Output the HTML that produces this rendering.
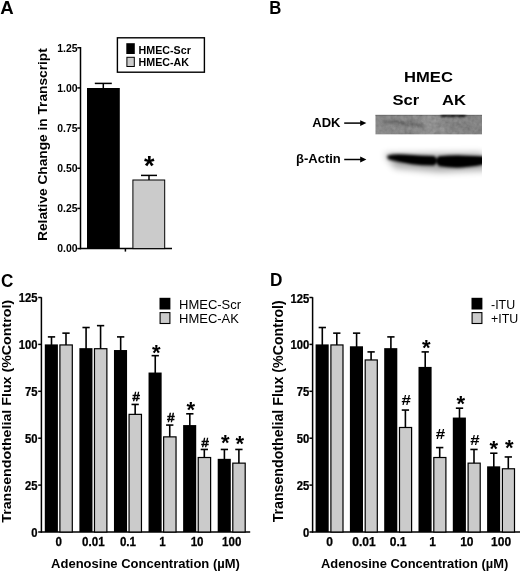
<!DOCTYPE html>
<html lang="en"><head><meta charset="utf-8"><title>Figure</title>
<style>
html,body{margin:0;padding:0;background:#fff;}
body{width:520px;height:571px;overflow:hidden;}
svg{display:block;}
svg text{font-family:"Liberation Sans",Arial,Helvetica,sans-serif;fill:#000;}
</style></head><body>
<svg width="520" height="571" viewBox="0 0 520 571">
<rect width="520" height="571" fill="#fff"/>
<text transform="translate(0.20,13.90) scale(0.98,1)" font-size="19" font-weight="bold" text-anchor="start">A</text>
<text transform="translate(269.30,13.80) scale(0.93,1)" font-size="18" font-weight="bold" text-anchor="start">B</text>
<text transform="translate(1.00,286.80) scale(0.9,1)" font-size="19" font-weight="bold" text-anchor="start">C</text>
<text transform="translate(270.00,286.00) scale(0.93,1)" font-size="18.5" font-weight="bold" text-anchor="start">D</text>
<line x1="80.5" y1="47.0" x2="80.5" y2="249.25" stroke="#000" stroke-width="1.5"/>
<line x1="79.85" y1="248.6" x2="172" y2="248.6" stroke="#000" stroke-width="1.5"/>
<line x1="77.3" y1="248.6" x2="80.5" y2="248.6" stroke="#000" stroke-width="1.5"/>
<text transform="translate(77.6,252.4) scale(0.96,1)" font-size="10.9" font-weight="bold" text-anchor="end">0.00</text>
<line x1="77.3" y1="208.425" x2="80.5" y2="208.425" stroke="#000" stroke-width="1.5"/>
<text transform="translate(77.6,212.22500000000002) scale(0.96,1)" font-size="10.9" font-weight="bold" text-anchor="end">0.25</text>
<line x1="77.3" y1="168.25" x2="80.5" y2="168.25" stroke="#000" stroke-width="1.5"/>
<text transform="translate(77.6,172.05) scale(0.96,1)" font-size="10.9" font-weight="bold" text-anchor="end">0.50</text>
<line x1="77.3" y1="128.075" x2="80.5" y2="128.075" stroke="#000" stroke-width="1.5"/>
<text transform="translate(77.6,131.875) scale(0.96,1)" font-size="10.9" font-weight="bold" text-anchor="end">0.75</text>
<line x1="77.3" y1="87.9" x2="80.5" y2="87.9" stroke="#000" stroke-width="1.5"/>
<text transform="translate(77.6,91.7) scale(0.96,1)" font-size="10.9" font-weight="bold" text-anchor="end">1.00</text>
<line x1="77.3" y1="47.724999999999994" x2="80.5" y2="47.724999999999994" stroke="#000" stroke-width="1.5"/>
<text transform="translate(77.6,51.52499999999999) scale(0.96,1)" font-size="10.9" font-weight="bold" text-anchor="end">1.25</text>
<line x1="125.4" y1="248.6" x2="125.4" y2="251.6" stroke="#000" stroke-width="1.5"/>
<line x1="103.3" y1="83.4" x2="103.3" y2="90" stroke="#000" stroke-width="1.5"/>
<line x1="94.8" y1="83.4" x2="111.8" y2="83.4" stroke="#000" stroke-width="1.5"/>
<rect x="87.00" y="88.00" width="32.80" height="160.60" fill="#000"/>
<line x1="149" y1="175.4" x2="149" y2="182" stroke="#000" stroke-width="1.5"/>
<line x1="141.0" y1="175.4" x2="157.0" y2="175.4" stroke="#000" stroke-width="1.5"/>
<rect x="132.90" y="180.00" width="31.80" height="68.60" fill="#cbcbcb" stroke="#000" stroke-width="1"/>
<text x="149.3" y="175" font-size="27" font-weight="bold" text-anchor="middle" >*</text>
<text transform="translate(46.6,144.6) rotate(-90) scale(1.097,1)" font-size="12.5" font-weight="bold" text-anchor="middle">Relative Change in Transcript</text>
<rect x="117.40" y="37.80" width="87.00" height="34.40" fill="#fff" stroke="#000" stroke-width="1.4"/>
<rect x="126.30" y="43.20" width="8.50" height="10.80" fill="#000"/>
<rect x="126.90" y="57.30" width="7.40" height="9.20" fill="#cbcbcb" stroke="#000" stroke-width="1.0"/>
<text x="138.6" y="53.5" font-size="10.7" font-weight="bold" text-anchor="start" >HMEC-Scr</text>
<text x="138.6" y="66.0" font-size="10.7" font-weight="bold" text-anchor="start" >HMEC-AK</text>
<text transform="translate(428.50,81.60) scale(1.07,1)" font-size="15.5" font-weight="bold" text-anchor="middle">HMEC</text>
<text transform="translate(405.90,104.90) scale(1.07,1)" font-size="15.5" font-weight="bold" text-anchor="middle">Scr</text>
<text transform="translate(454.00,104.90) scale(1.07,1)" font-size="15.5" font-weight="bold" text-anchor="middle">AK</text>
<text x="312.3" y="127" font-size="13" font-weight="bold" text-anchor="start" >ADK</text>
<text x="296" y="163.2" font-size="13" font-weight="bold" text-anchor="start" >β-Actin</text>
<line x1="344.2" y1="123.1" x2="363.4" y2="123.1" stroke="#000" stroke-width="1.5"/>
<path d="M366.4,123.1 L360.2,120.19999999999999 L360.2,126.0 Z" fill="#000"/>
<line x1="344.2" y1="159.5" x2="363.4" y2="159.5" stroke="#000" stroke-width="1.5"/>
<path d="M366.4,159.5 L360.2,156.6 L360.2,162.4 Z" fill="#000"/>
<defs>
<filter id="b1" x="-20%" y="-100%" width="140%" height="300%"><feGaussianBlur stdDeviation="1.5"/></filter>
<filter id="b2" x="-20%" y="-100%" width="140%" height="300%"><feGaussianBlur stdDeviation="1.7"/></filter>
<filter id="b3" x="-20%" y="-100%" width="140%" height="300%"><feGaussianBlur stdDeviation="0.9"/></filter>
<filter id="b5" x="-20%" y="-200%" width="140%" height="500%"><feGaussianBlur stdDeviation="0.6"/></filter>
<filter id="b6" x="-20%" y="-200%" width="140%" height="500%"><feGaussianBlur stdDeviation="1.6 0.8"/></filter>
<filter id="b4" x="-20%" y="-100%" width="140%" height="300%"><feGaussianBlur stdDeviation="3.5"/></filter>
<filter id="nz" x="0" y="0" width="100%" height="100%"><feTurbulence type="fractalNoise" baseFrequency="0.22" numOctaves="2" seed="7" result="t"/><feColorMatrix in="t" type="matrix" values="0 0 0 0 0  0 0 0 0 0  0 0 0 0 0  0.9 0.9 0 0 -0.72"/><feComposite in2="SourceGraphic" operator="in"/></filter>
<filter id="nz2" x="0" y="0" width="100%" height="100%"><feTurbulence type="fractalNoise" baseFrequency="0.22" numOctaves="2" seed="23" result="t"/><feColorMatrix in="t" type="matrix" values="0 0 0 0 1  0 0 0 0 1  0 0 0 0 1  0.9 0.9 0 0 -0.75"/><feComposite in2="SourceGraphic" operator="in"/></filter>
<clipPath id="c1"><rect x="375.3" y="114.8" width="106.7" height="19.7"/></clipPath>
<clipPath id="c2"><rect x="372" y="140" width="110" height="40"/></clipPath>
<linearGradient id="g1" x1="0" x2="1" y1="0" y2="0"><stop offset="0" stop-color="#8b8b8b"/><stop offset="0.35" stop-color="#8a8a8a"/><stop offset="0.55" stop-color="#949494"/><stop offset="0.75" stop-color="#878787"/><stop offset="1" stop-color="#858585"/></linearGradient>
</defs>
<g clip-path="url(#c1)">
<rect x="375.30" y="114.80" width="106.70" height="19.70" fill="url(#g1)"/>
<path d="M384,121.3 Q400,122.5 424,126.0" stroke="#555" stroke-width="3" fill="none" filter="url(#b1)" opacity="0.75"/>
<path d="M437,125 Q455,123 470,126" stroke="#666" stroke-width="3" fill="none" filter="url(#b1)" opacity="0.35"/>
<rect x="441" y="112.6" width="25" height="4.2" fill="#000" filter="url(#b6)" opacity="0.95"/>
<rect x="370" y="114.0" width="117" height="1.8" fill="#505050" filter="url(#b5)" opacity="0.45"/>
<rect x="370" y="133.6" width="117" height="1.4" fill="#6a6a6a" filter="url(#b5)" opacity="0.15"/>
<rect x="375.3" y="114.8" width="106.7" height="19.7" fill="#000" filter="url(#nz)" opacity="0.22"/>
<rect x="375.3" y="114.8" width="106.7" height="19.7" fill="#fff" filter="url(#nz2)" opacity="0.18"/>
</g>
<g clip-path="url(#c2)">
<g filter="url(#b4)" opacity="0.35">
<path d="M384,154 L482,153 L490,170 L440,172 L395,168 Z" fill="#000"/>
</g>
<g filter="url(#b2)">
<path d="M387.5,155.4 Q395,153.8 405,154.6 Q420,156 434.5,156.0 Q439,160.5 434.5,165.4 Q423,165.6 412,164.2 Q398,162.2 389,159.6 Q386.5,158 387.5,155.4 Z" fill="#000"/>
<path d="M438.5,156.2 Q450,155.2 462,155.4 Q475,155.6 486,156.6 L486,164 Q474,167 462,167.6 Q450,168 439,166.2 Q434.2,161 438.5,156.2 Z" fill="#000"/>
</g>
<g filter="url(#b3)" opacity="0.9">
<path d="M396,157.0 Q410,157.0 434.5,158.6 Q436.5,160.6 434.5,163 Q420,163.2 408,161.6 Q399,160 396,157.0 Z" fill="#000"/>
<path d="M439,158.6 Q460,157.6 486,158.4 L486,162.4 Q470,165.2 455,165.4 Q447,165.4 439,163.6 Q436.5,161 439,158.6 Z" fill="#000"/>
</g>
</g>
<line x1="41.4" y1="297.2" x2="41.4" y2="532.65" stroke="#000" stroke-width="1.5"/>
<line x1="40.75" y1="532.0" x2="250.2" y2="532.0" stroke="#000" stroke-width="1.5"/>
<line x1="38.199999999999996" y1="532.0" x2="41.4" y2="532.0" stroke="#000" stroke-width="1.5"/>
<text transform="translate(37.60,536.80) scale(0.94,1)" font-size="12" font-weight="bold" text-anchor="end" stroke="#000" stroke-width="0.25">0</text>
<line x1="38.199999999999996" y1="485.1" x2="41.4" y2="485.1" stroke="#000" stroke-width="1.5"/>
<text transform="translate(37.60,489.90) scale(0.94,1)" font-size="12" font-weight="bold" text-anchor="end" stroke="#000" stroke-width="0.25">25</text>
<line x1="38.199999999999996" y1="438.2" x2="41.4" y2="438.2" stroke="#000" stroke-width="1.5"/>
<text transform="translate(37.60,443.00) scale(0.94,1)" font-size="12" font-weight="bold" text-anchor="end" stroke="#000" stroke-width="0.25">50</text>
<line x1="38.199999999999996" y1="391.3" x2="41.4" y2="391.3" stroke="#000" stroke-width="1.5"/>
<text transform="translate(37.60,396.10) scale(0.94,1)" font-size="12" font-weight="bold" text-anchor="end" stroke="#000" stroke-width="0.25">75</text>
<line x1="38.199999999999996" y1="344.4" x2="41.4" y2="344.4" stroke="#000" stroke-width="1.5"/>
<text transform="translate(37.60,349.20) scale(0.94,1)" font-size="12" font-weight="bold" text-anchor="end" stroke="#000" stroke-width="0.25">100</text>
<line x1="38.199999999999996" y1="297.5" x2="41.4" y2="297.5" stroke="#000" stroke-width="1.5"/>
<text transform="translate(37.60,302.30) scale(0.94,1)" font-size="12" font-weight="bold" text-anchor="end" stroke="#000" stroke-width="0.25">125</text>
<line x1="51.5" y1="336.896" x2="51.5" y2="346.4" stroke="#000" stroke-width="1.6"/>
<line x1="47.85" y1="336.896" x2="55.15" y2="336.896" stroke="#000" stroke-width="1.6"/>
<rect x="44.80" y="344.40" width="13.10" height="187.60" fill="#000"/>
<line x1="66.0" y1="333.144" x2="66.0" y2="346.4" stroke="#000" stroke-width="1.6"/>
<line x1="62.35" y1="333.144" x2="69.65" y2="333.144" stroke="#000" stroke-width="1.6"/>
<rect x="59.90" y="344.95" width="12.40" height="187.05" fill="#cbcbcb" stroke="#000" stroke-width="1.2"/>
<text transform="translate(58.80,546.40) scale(0.95,1)" font-size="12.2" font-weight="bold" text-anchor="middle" stroke="#000" stroke-width="0.25">0</text>
<line x1="86.08" y1="327.516" x2="86.08" y2="350.15200000000004" stroke="#000" stroke-width="1.6"/>
<line x1="82.42999999999999" y1="327.516" x2="89.73" y2="327.516" stroke="#000" stroke-width="1.6"/>
<rect x="79.38" y="348.15" width="13.10" height="183.85" fill="#000"/>
<line x1="100.58" y1="325.64" x2="100.58" y2="350.15200000000004" stroke="#000" stroke-width="1.6"/>
<line x1="96.92999999999999" y1="325.64" x2="104.23" y2="325.64" stroke="#000" stroke-width="1.6"/>
<rect x="94.48" y="348.70" width="12.40" height="183.30" fill="#cbcbcb" stroke="#000" stroke-width="1.2"/>
<text transform="translate(93.38,546.40) scale(0.95,1)" font-size="12.2" font-weight="bold" text-anchor="middle" stroke="#000" stroke-width="0.25">0.01</text>
<line x1="120.66" y1="336.896" x2="120.66" y2="352.028" stroke="#000" stroke-width="1.6"/>
<line x1="117.00999999999999" y1="336.896" x2="124.31" y2="336.896" stroke="#000" stroke-width="1.6"/>
<rect x="113.96" y="350.03" width="13.10" height="181.97" fill="#000"/>
<line x1="135.16" y1="404.432" x2="135.16" y2="415.812" stroke="#000" stroke-width="1.6"/>
<line x1="131.51" y1="404.432" x2="138.81" y2="404.432" stroke="#000" stroke-width="1.6"/>
<rect x="129.06" y="414.36" width="12.40" height="117.64" fill="#cbcbcb" stroke="#000" stroke-width="1.2"/>
<text transform="translate(127.96,546.40) scale(0.95,1)" font-size="12.2" font-weight="bold" text-anchor="middle" stroke="#000" stroke-width="0.25">0.1</text>
<line x1="155.23999999999998" y1="355.656" x2="155.23999999999998" y2="374.54" stroke="#000" stroke-width="1.6"/>
<line x1="151.58999999999997" y1="355.656" x2="158.89" y2="355.656" stroke="#000" stroke-width="1.6"/>
<rect x="148.54" y="372.54" width="13.10" height="159.46" fill="#000"/>
<line x1="169.73999999999998" y1="425.068" x2="169.73999999999998" y2="438.324" stroke="#000" stroke-width="1.6"/>
<line x1="166.08999999999997" y1="425.068" x2="173.39" y2="425.068" stroke="#000" stroke-width="1.6"/>
<rect x="163.64" y="436.87" width="12.40" height="95.13" fill="#cbcbcb" stroke="#000" stroke-width="1.2"/>
<text transform="translate(162.54,546.40) scale(0.95,1)" font-size="12.2" font-weight="bold" text-anchor="middle" stroke="#000" stroke-width="0.25">1</text>
<line x1="189.82" y1="413.812" x2="189.82" y2="427.068" stroke="#000" stroke-width="1.6"/>
<line x1="186.17" y1="413.812" x2="193.47" y2="413.812" stroke="#000" stroke-width="1.6"/>
<rect x="183.12" y="425.07" width="13.10" height="106.93" fill="#000"/>
<line x1="204.32" y1="449.456" x2="204.32" y2="458.96000000000004" stroke="#000" stroke-width="1.6"/>
<line x1="200.67" y1="449.456" x2="207.97" y2="449.456" stroke="#000" stroke-width="1.6"/>
<rect x="198.22" y="457.51" width="12.40" height="74.49" fill="#cbcbcb" stroke="#000" stroke-width="1.2"/>
<text transform="translate(197.12,546.40) scale(0.95,1)" font-size="12.2" font-weight="bold" text-anchor="middle" stroke="#000" stroke-width="0.25">10</text>
<line x1="224.39999999999998" y1="449.456" x2="224.39999999999998" y2="460.836" stroke="#000" stroke-width="1.6"/>
<line x1="220.74999999999997" y1="449.456" x2="228.04999999999998" y2="449.456" stroke="#000" stroke-width="1.6"/>
<rect x="217.70" y="458.84" width="13.10" height="73.16" fill="#000"/>
<line x1="238.89999999999998" y1="449.456" x2="238.89999999999998" y2="464.588" stroke="#000" stroke-width="1.6"/>
<line x1="235.24999999999997" y1="449.456" x2="242.54999999999998" y2="449.456" stroke="#000" stroke-width="1.6"/>
<rect x="232.80" y="463.14" width="12.40" height="68.86" fill="#cbcbcb" stroke="#000" stroke-width="1.2"/>
<text transform="translate(231.70,546.40) scale(0.95,1)" font-size="12.2" font-weight="bold" text-anchor="middle" stroke="#000" stroke-width="0.25">100</text>
<text x="156.3" y="359.8" font-size="22" font-weight="bold" text-anchor="middle" >*</text>
<text x="190.8" y="417.3" font-size="22" font-weight="bold" text-anchor="middle" >*</text>
<text x="136" y="400.5" font-size="13" font-weight="normal" text-anchor="middle" stroke="#000" stroke-width="0.6">#</text>
<text x="170.9" y="422" font-size="13" font-weight="normal" text-anchor="middle" stroke="#000" stroke-width="0.6">#</text>
<text x="205.2" y="446.7" font-size="13" font-weight="normal" text-anchor="middle" stroke="#000" stroke-width="0.6">#</text>
<text x="225.2" y="450.2" font-size="22" font-weight="bold" text-anchor="middle" >*</text>
<text x="239.7" y="451.4" font-size="22" font-weight="bold" text-anchor="middle" >*</text>
<text transform="translate(10.8,411.3) rotate(-90) scale(1.055,1)" font-size="13.5" font-weight="bold" text-anchor="middle">Transendothelial Flux (%Control)</text>
<text x="145.5" y="567.5" font-size="13" font-weight="bold" text-anchor="middle" >Adenosine Concentration (µM)</text>
<rect x="159.50" y="297.80" width="10.90" height="11.70" fill="#000"/>
<rect x="160.10" y="312.60" width="9.80" height="10.90" fill="#cbcbcb" stroke="#000" stroke-width="1.1"/>
<text transform="translate(179.00,308.60) scale(1,1)" font-size="13" font-weight="normal" text-anchor="start">HMEC-Scr</text>
<text transform="translate(179.00,322.80) scale(1,1)" font-size="13" font-weight="normal" text-anchor="start">HMEC-AK</text>
<line x1="312.6" y1="297.2" x2="312.6" y2="532.65" stroke="#000" stroke-width="1.5"/>
<line x1="311.95000000000005" y1="532.0" x2="520" y2="532.0" stroke="#000" stroke-width="1.5"/>
<line x1="309.40000000000003" y1="532.0" x2="312.6" y2="532.0" stroke="#000" stroke-width="1.5"/>
<text transform="translate(309.20,537.00) scale(0.94,1)" font-size="12" font-weight="bold" text-anchor="end" stroke="#000" stroke-width="0.25">0</text>
<line x1="309.40000000000003" y1="485.1" x2="312.6" y2="485.1" stroke="#000" stroke-width="1.5"/>
<text transform="translate(309.20,490.10) scale(0.94,1)" font-size="12" font-weight="bold" text-anchor="end" stroke="#000" stroke-width="0.25">25</text>
<line x1="309.40000000000003" y1="438.2" x2="312.6" y2="438.2" stroke="#000" stroke-width="1.5"/>
<text transform="translate(309.20,443.20) scale(0.94,1)" font-size="12" font-weight="bold" text-anchor="end" stroke="#000" stroke-width="0.25">50</text>
<line x1="309.40000000000003" y1="391.3" x2="312.6" y2="391.3" stroke="#000" stroke-width="1.5"/>
<text transform="translate(309.20,396.30) scale(0.94,1)" font-size="12" font-weight="bold" text-anchor="end" stroke="#000" stroke-width="0.25">75</text>
<line x1="309.40000000000003" y1="344.4" x2="312.6" y2="344.4" stroke="#000" stroke-width="1.5"/>
<text transform="translate(309.20,349.40) scale(0.94,1)" font-size="12" font-weight="bold" text-anchor="end" stroke="#000" stroke-width="0.25">100</text>
<line x1="309.40000000000003" y1="297.5" x2="312.6" y2="297.5" stroke="#000" stroke-width="1.5"/>
<text transform="translate(309.20,302.50) scale(0.94,1)" font-size="12" font-weight="bold" text-anchor="end" stroke="#000" stroke-width="0.25">125</text>
<line x1="322.3" y1="327.516" x2="322.3" y2="346.4" stroke="#000" stroke-width="1.6"/>
<line x1="318.65000000000003" y1="327.516" x2="325.95" y2="327.516" stroke="#000" stroke-width="1.6"/>
<rect x="315.60" y="344.40" width="13.10" height="187.60" fill="#000"/>
<line x1="336.8" y1="333.144" x2="336.8" y2="346.4" stroke="#000" stroke-width="1.6"/>
<line x1="333.15000000000003" y1="333.144" x2="340.45" y2="333.144" stroke="#000" stroke-width="1.6"/>
<rect x="330.90" y="344.95" width="12.10" height="187.05" fill="#cbcbcb" stroke="#000" stroke-width="1.2"/>
<text transform="translate(329.60,546.20) scale(1,1)" font-size="12.0" font-weight="bold" text-anchor="middle" stroke="#000" stroke-width="0.25">0</text>
<line x1="356.6" y1="333.144" x2="356.6" y2="348.276" stroke="#000" stroke-width="1.6"/>
<line x1="352.95000000000005" y1="333.144" x2="360.25" y2="333.144" stroke="#000" stroke-width="1.6"/>
<rect x="349.90" y="346.28" width="13.10" height="185.72" fill="#000"/>
<line x1="371.1" y1="351.904" x2="371.1" y2="361.408" stroke="#000" stroke-width="1.6"/>
<line x1="367.45000000000005" y1="351.904" x2="374.75" y2="351.904" stroke="#000" stroke-width="1.6"/>
<rect x="365.20" y="359.96" width="12.10" height="172.04" fill="#cbcbcb" stroke="#000" stroke-width="1.2"/>
<text transform="translate(363.90,546.20) scale(1,1)" font-size="12.0" font-weight="bold" text-anchor="middle" stroke="#000" stroke-width="0.25">0.01</text>
<line x1="390.90000000000003" y1="336.896" x2="390.90000000000003" y2="350.15200000000004" stroke="#000" stroke-width="1.6"/>
<line x1="387.25000000000006" y1="336.896" x2="394.55" y2="336.896" stroke="#000" stroke-width="1.6"/>
<rect x="384.20" y="348.15" width="13.10" height="183.85" fill="#000"/>
<line x1="405.40000000000003" y1="410.06" x2="405.40000000000003" y2="428.944" stroke="#000" stroke-width="1.6"/>
<line x1="401.75000000000006" y1="410.06" x2="409.05" y2="410.06" stroke="#000" stroke-width="1.6"/>
<rect x="399.50" y="427.49" width="12.10" height="104.51" fill="#cbcbcb" stroke="#000" stroke-width="1.2"/>
<text transform="translate(398.20,546.20) scale(1,1)" font-size="12.0" font-weight="bold" text-anchor="middle" stroke="#000" stroke-width="0.25">0.1</text>
<line x1="425.2" y1="351.904" x2="425.2" y2="368.91200000000003" stroke="#000" stroke-width="1.6"/>
<line x1="421.55" y1="351.904" x2="428.84999999999997" y2="351.904" stroke="#000" stroke-width="1.6"/>
<rect x="418.50" y="366.91" width="13.10" height="165.09" fill="#000"/>
<line x1="439.7" y1="447.58" x2="439.7" y2="458.96000000000004" stroke="#000" stroke-width="1.6"/>
<line x1="436.05" y1="447.58" x2="443.34999999999997" y2="447.58" stroke="#000" stroke-width="1.6"/>
<rect x="433.80" y="457.51" width="12.10" height="74.49" fill="#cbcbcb" stroke="#000" stroke-width="1.2"/>
<text transform="translate(432.50,546.20) scale(1,1)" font-size="12.0" font-weight="bold" text-anchor="middle" stroke="#000" stroke-width="0.25">1</text>
<line x1="459.5" y1="408.184" x2="459.5" y2="419.564" stroke="#000" stroke-width="1.6"/>
<line x1="455.85" y1="408.184" x2="463.15" y2="408.184" stroke="#000" stroke-width="1.6"/>
<rect x="452.80" y="417.56" width="13.10" height="114.44" fill="#000"/>
<line x1="474.0" y1="449.456" x2="474.0" y2="464.588" stroke="#000" stroke-width="1.6"/>
<line x1="470.35" y1="449.456" x2="477.65" y2="449.456" stroke="#000" stroke-width="1.6"/>
<rect x="468.10" y="463.14" width="12.10" height="68.86" fill="#cbcbcb" stroke="#000" stroke-width="1.2"/>
<text transform="translate(466.80,546.20) scale(1,1)" font-size="12.0" font-weight="bold" text-anchor="middle" stroke="#000" stroke-width="0.25">10</text>
<line x1="493.8" y1="453.20799999999997" x2="493.8" y2="468.34000000000003" stroke="#000" stroke-width="1.6"/>
<line x1="490.15000000000003" y1="453.20799999999997" x2="497.45" y2="453.20799999999997" stroke="#000" stroke-width="1.6"/>
<rect x="487.10" y="466.34" width="13.10" height="65.66" fill="#000"/>
<line x1="508.3" y1="456.96000000000004" x2="508.3" y2="470.216" stroke="#000" stroke-width="1.6"/>
<line x1="504.65000000000003" y1="456.96000000000004" x2="511.95" y2="456.96000000000004" stroke="#000" stroke-width="1.6"/>
<rect x="502.40" y="468.77" width="12.10" height="63.23" fill="#cbcbcb" stroke="#000" stroke-width="1.2"/>
<text transform="translate(501.10,546.20) scale(1,1)" font-size="12.0" font-weight="bold" text-anchor="middle" stroke="#000" stroke-width="0.25">100</text>
<text x="426.3" y="354.5" font-size="22" font-weight="bold" text-anchor="middle" >*</text>
<text x="460.8" y="411" font-size="22" font-weight="bold" text-anchor="middle" >*</text>
<text transform="translate(406.30,405.00) scale(1.1,1)" font-size="15.3" font-weight="bold" text-anchor="middle">#</text>
<text transform="translate(440.40,439.20) scale(1.1,1)" font-size="15.3" font-weight="bold" text-anchor="middle">#</text>
<text transform="translate(474.90,444.70) scale(1.1,1)" font-size="15.3" font-weight="bold" text-anchor="middle">#</text>
<text x="493.8" y="455.5" font-size="22" font-weight="bold" text-anchor="middle" >*</text>
<text x="509.3" y="454.6" font-size="22" font-weight="bold" text-anchor="middle" >*</text>
<text transform="translate(282.5,411.3) rotate(-90) scale(1.028,1)" font-size="13.8" font-weight="bold" text-anchor="middle">Transendothelial Flux (%Control)</text>
<text x="414.6" y="567.5" font-size="12.9" font-weight="bold" text-anchor="middle" >Adenosine Concentration (µM)</text>
<rect x="471.50" y="297.80" width="10.90" height="11.70" fill="#000"/>
<rect x="472.10" y="312.60" width="9.80" height="10.90" fill="#cbcbcb" stroke="#000" stroke-width="1.1"/>
<text transform="translate(491.00,308.60) scale(0.955,1)" font-size="13" font-weight="normal" text-anchor="start">-ITU</text>
<text transform="translate(491.00,322.80) scale(0.955,1)" font-size="13" font-weight="normal" text-anchor="start">+ITU</text>
</svg>
</body></html>
